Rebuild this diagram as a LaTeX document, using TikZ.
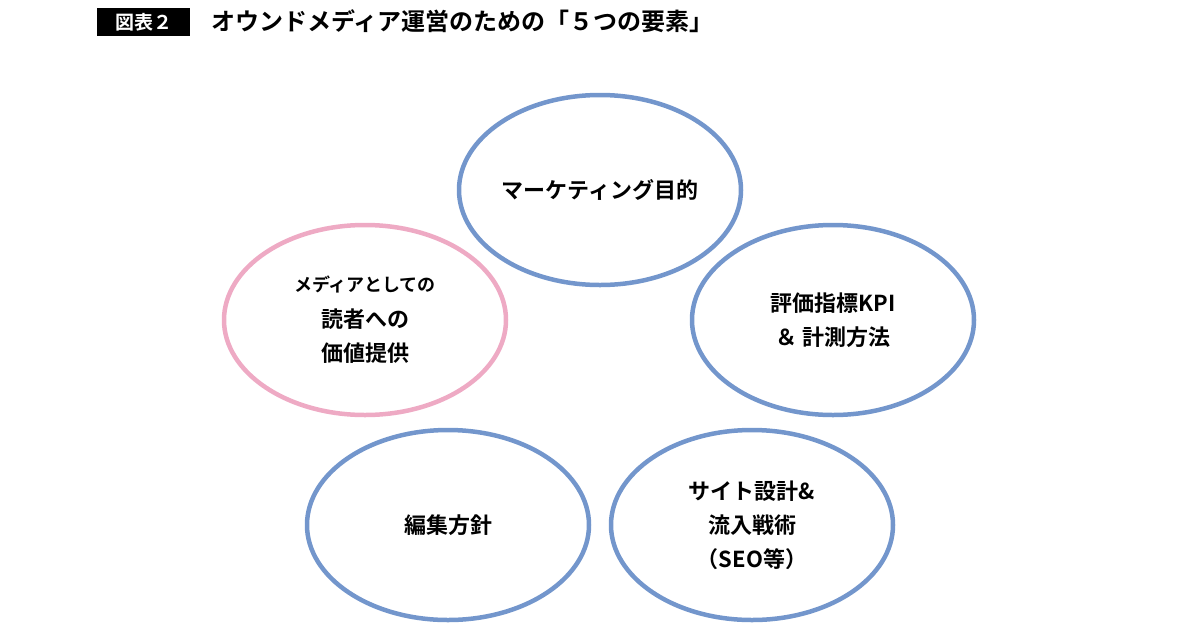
\documentclass[tikz,border=0pt]{standalone}
\usepackage{fontspec}
\setmainfont{Noto Sans CJK JP}[BoldFont={* Bold}]
\usetikzlibrary{shapes.geometric}
\definecolor{eblue}{HTML}{7396CC}
\definecolor{epink}{HTML}{EEAAC4}
\begin{document}
\begin{tikzpicture}[x=1pt,y=-1pt,
  elem/.style={ellipse,draw=eblue,line width=4.5pt,minimum width=282pt,minimum height=190pt,inner sep=0pt,align=center,font=\bfseries\fontsize{22}{34}\selectfont},
  pinkelem/.style={elem,draw=epink}]
\useasboundingbox (0,0) rectangle (1200,630);
\node[fill=black,text=white,minimum width=93pt,minimum height=28pt,inner sep=0pt,font=\bfseries\fontsize{19}{19}\selectfont] (tag) at (143.5,22) {図表２};
\node[anchor=west,inner sep=0pt,font=\bfseries\fontsize{24}{24}\selectfont] (title) at (211,21) {オウンドメディア運営のための「５つの要素」};
\node[elem] (top) at (600,190) {マーケティング目的};
\node[pinkelem] (left) at (365,320) {{\fontsize{18}{18}\selectfont メディアとしての}\\[2pt]読者への\\価値提供};
\node[elem] (right) at (833,320) {評価指標KPI\\＆ 計測方法};
\node[elem] (bl) at (448,525) {編集方針};
\node[elem] (br) at (752,525) {サイト設計\&\\流入戦術\\（SEO等）};
\end{tikzpicture}
\end{document}
